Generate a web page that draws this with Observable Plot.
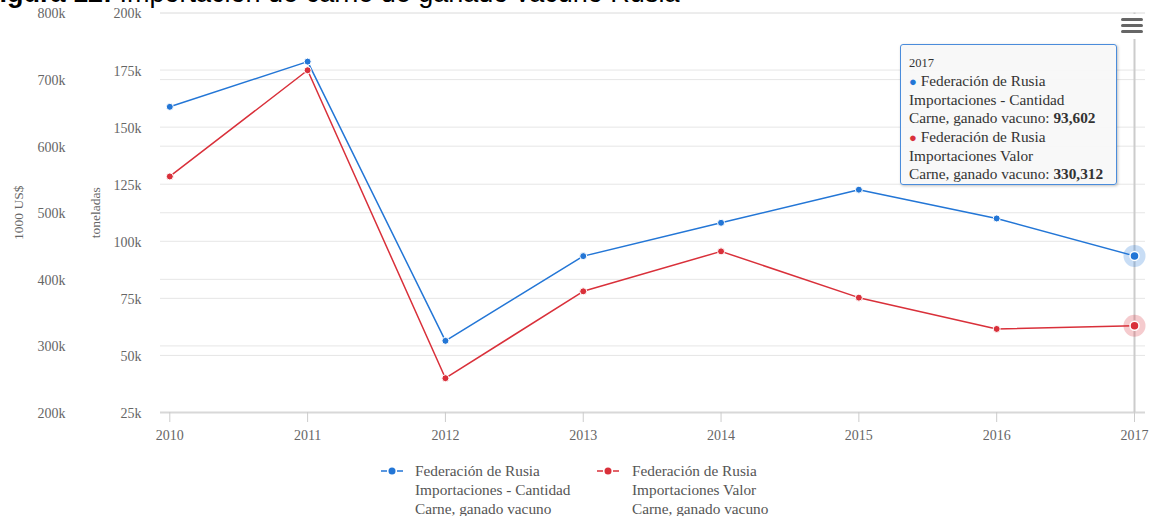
<!DOCTYPE html>
<html>
<head>
<meta charset="utf-8">
<script src="https://cdn.jsdelivr.net/npm/d3@7"></script>
<script src="https://cdn.jsdelivr.net/npm/@observablehq/plot@0.6"></script>
<style>
  html, body { margin:0; padding:0; background:#fff; width:1149px; height:516px; overflow:hidden; position:relative; }
  #title { position:absolute; left:-17px; top:-20px; font-family:"Liberation Sans", Arial, sans-serif; font-size:27px; line-height:26px; color:#000; white-space:nowrap; }
  #chart { position:absolute; left:0; top:0; }
  #menu { position:absolute; left:1116px; top:14px; width:32px; height:25px; background:#fff; }
  #menu span { position:absolute; left:5px; width:22px; height:3px; border-radius:2px; background:#666; }
  #tooltip { position:absolute; left:900px; top:44px; width:215px; height:139px; box-sizing:content-box; background:rgba(247,247,247,0.92); border:1px solid #4a8cdb; border-radius:3px; box-shadow:1px 1px 3px rgba(0,0,0,0.25); font-family:"Liberation Serif", "Times New Roman", serif; color:#333; font-size:15.3px; }
  #tooltip .in { position:absolute; left:8px; top:9px; line-height:18.2px; white-space:nowrap; }
  #tooltip .hd { font-size:12.5px; line-height:18px; }
  #legend { position:absolute; top:461px; left:0; width:1149px; font-family:"Liberation Serif", "Times New Roman", serif; font-size:15.3px; color:#555; }
  .item { position:absolute; top:0; line-height:19px; white-space:nowrap; }
  .sym { position:absolute; top:4px; }
</style>
</head>
<body>
<div id="chart"></div>
<div id="title"><b>Figura 12:</b> Importación de carne de ganado vacuno Rusia</div>
<div id="menu"><span style="top:4px"></span><span style="top:10px"></span><span style="top:16px"></span></div>
<div id="tooltip"><div class="in" id="ttin"></div></div>
<div id="legend"></div>
<script>
// ---- data ----
const years = [2010, 2011, 2012, 2013, 2014, 2015, 2016, 2017];
const cantidad = [158900, 178700, 56400, 93500, 108100, 122600, 110000, 93602];   // toneladas
const valor = [554500, 714000, 251500, 382000, 442000, 372500, 325500, 330312];    // 1000 US$
const tonTicks = [25000, 50000, 75000, 100000, 125000, 150000, 175000, 200000];
const usdTicks = [200000, 300000, 400000, 500000, 600000, 700000, 800000];
const seriesNames = [
  ["Federación de Rusia", "Importaciones - Cantidad", "Carne, ganado vacuno"],
  ["Federación de Rusia", "Importaciones Valor", "Carne, ganado vacuno"]
];
const tipYear = "2017";
const tipValues = ["93,602", "330,312"];

const blue = "#2376d6";
const red = "#d9303a";

// secondary axis (1000 US$) mapped onto the primary (toneladas) scale
const tonDom = [25000, 200000], usdDom = [200000, 800000];
const toT = v => tonDom[0] + (v - usdDom[0]) * (tonDom[1] - tonDom[0]) / (usdDom[1] - usdDom[0]);
const fromT = t => usdDom[0] + (t - tonDom[0]) * (usdDom[1] - usdDom[0]) / (tonDom[1] - tonDom[0]);
const fmt = d3.format("~s");

const rowsT = years.map((yr, i) => ({year: yr, v: cantidad[i]}));
const rowsV = years.map((yr, i) => ({year: yr, v: toT(valor[i])}));
const lastT = rowsT.slice(-1), lastV = rowsV.slice(-1);

const chart = Plot.plot({
  width: 1149, height: 450,
  marginLeft: 160, marginRight: 4, marginTop: 12.5, marginBottom: 38,
  style: {fontFamily: "'Liberation Serif', 'Times New Roman', serif", fontSize: "14px", color: "#666", background: "transparent", overflow: "visible"},
  x: {type: "linear", domain: [years[0], years[years.length - 1]], range: [169.3, 1134]},
  y: {domain: tonDom},
  marks: [
    Plot.gridY(usdTicks.map(toT), {stroke: "#e6e6e6", strokeOpacity: 1}),
    Plot.gridY(tonTicks.slice(1), {stroke: "#e6e6e6", strokeOpacity: 1}),
    Plot.ruleY([tonDom[0]], {stroke: "#d8d8d8", strokeWidth: 2}),
    Plot.axisY({ticks: tonTicks, tickSize: 0, tickPadding: 19, dy: 1, tickFormat: fmt, label: null}),
    Plot.axisY({ticks: usdTicks.map(toT), tickSize: 0, tickPadding: 19, dx: -76, dy: 1, tickFormat: d => fmt(Math.round(fromT(d))), label: null}),
    Plot.axisX({ticks: years, tickSize: 10, tickPadding: 8, stroke: "#ccc", tickFormat: d => String(d), label: null}),
    Plot.text(["toneladas"], {text: d => d, frameAnchor: "left", dx: -65, rotate: -90, textAnchor: "middle", fill: "#666", fontSize: 13.5}),
    Plot.text(["1000 US$"], {text: d => d, frameAnchor: "left", dx: -142, rotate: -90, textAnchor: "middle", fill: "#666", fontSize: 13.5}),
    Plot.ruleX([years[years.length - 1]], {stroke: "#cccccc", strokeWidth: 2}),
    Plot.line(rowsT, {x: "year", y: "v", stroke: blue, strokeWidth: 1.5}),
    Plot.line(rowsV, {x: "year", y: "v", stroke: red, strokeWidth: 1.5}),
    Plot.dot(lastT, {x: "year", y: "v", r: 11, fill: blue, fillOpacity: 0.25}),
    Plot.dot(lastV, {x: "year", y: "v", r: 11, fill: red, fillOpacity: 0.25}),
    Plot.dot(rowsT, {x: "year", y: "v", r: 3.5, fill: blue, stroke: "#fff", strokeWidth: 1}),
    Plot.dot(rowsV, {x: "year", y: "v", r: 3.5, fill: red, stroke: "#fff", strokeWidth: 1}),
    Plot.dot(lastT, {x: "year", y: "v", r: 4.5, fill: blue, stroke: "#fff", strokeWidth: 1.5}),
    Plot.dot(lastV, {x: "year", y: "v", r: 4.5, fill: red, stroke: "#fff", strokeWidth: 1.5})
  ]
});
document.getElementById("chart").appendChild(chart);

// tooltip
const tt = document.getElementById("ttin");
let html = `<div class="hd">${tipYear}</div>`;
[blue, red].forEach((c, i) => {
  html += `<div><span style="color:${c};font-size:13px">●</span> ${seriesNames[i][0]}</div>`;
  html += `<div>${seriesNames[i][1]}</div>`;
  html += `<div>${seriesNames[i][2]}: <b>${tipValues[i]}</b></div>`;
});
tt.innerHTML = html;

// legend
const lg = document.getElementById("legend");
const lefts = [381, 597];
[blue, red].forEach((c, i) => {
  const it = document.createElement("div");
  it.className = "item";
  it.style.left = lefts[i] + "px";
  it.innerHTML = `<svg class="sym" width="24" height="12"><line x1="0" y1="6" x2="22" y2="6" stroke="${c}" stroke-width="1.5" stroke-dasharray="6,2"/><circle cx="11" cy="6" r="3.5" fill="${c}"/></svg>` +
    `<div style="position:absolute;left:${i === 0 ? 34 : 35}px;top:0">${seriesNames[i].join("<br>")}</div>`;
  lg.appendChild(it);
});
</script>
</body>
</html>
